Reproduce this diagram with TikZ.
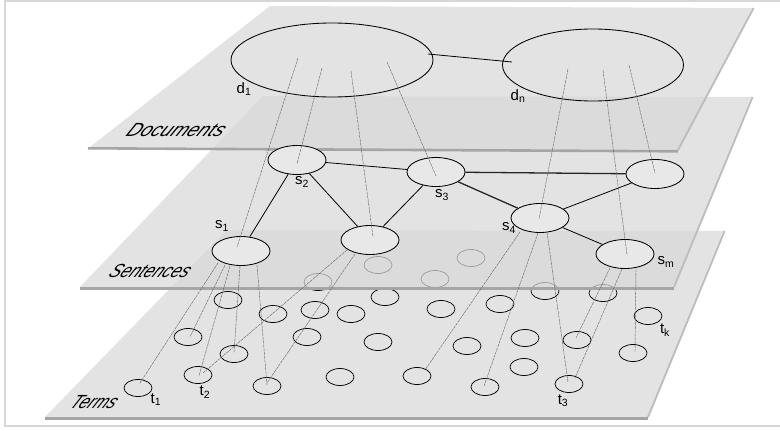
\documentclass[tikz,border=0pt]{standalone}
\usepackage{fontspec}
\setmainfont{Liberation Sans}
\usetikzlibrary{shapes.geometric,calc}
\definecolor{planec}{RGB}{217,217,217}
\definecolor{shadowc}{RGB}{165,165,165}
\definecolor{rshadowc}{RGB}{190,190,190}
\definecolor{framec}{RGB}{215,215,215}
\definecolor{sentc}{RGB}{232,232,232}
\definecolor{connc}{RGB}{105,105,105}
\tikzset{
  plane/.style={fill=planec, fill opacity=0.72},
  bshadow/.style={draw=shadowc, line width=2.6pt},
  rshadow/.style={draw=rshadowc, line width=2pt},
  termnode/.style={ellipse, draw=black, line width=0.75pt, minimum width=28pt, minimum height=17pt, inner sep=0pt},
  sentnode/.style={ellipse, draw=black, line width=0.85pt, fill=sentc, minimum width=58pt, minimum height=29pt, inner sep=0pt},
  docnode/.style={ellipse, draw=black, line width=0.85pt, inner sep=0pt},
  sedge/.style={draw=black, line width=0.8pt},
  sedgeb/.style={draw=black!85, line width=1.3pt},
  conn/.style={draw=connc, line width=0.45pt, dash pattern=on 3pt off 0.8pt},
  lbl/.style={font=\fontsize{15}{15}\selectfont, inner sep=0pt},
  planelabel/.style={font=\fontsize{19}{19}\selectfont\itshape, inner sep=0pt, xslant=0.62, transform shape}
}
\begin{document}
\begin{tikzpicture}[x=1pt,y=-1pt]
\useasboundingbox (0,0) rectangle (780,431);
\fill[white] (0,0) rectangle (780,431);
\draw[framec, line width=2pt] (5,1) rectangle (800,426);

% ---------- Terms plane ----------
\fill[plane] (227,230) -- (723,231) -- (647,417) -- (45,417) -- cycle;
\draw[bshadow] (45,418.3) -- (648,418.3);
\draw[rshadow] (648,417) -- (724.5,231);

% term ellipses
\node[termnode] (ta) at (228,300) {};
\node[termnode] (tb) at (273,314) {};
\node[termnode] (tc) at (315,310) {};
\node[termnode] (td) at (351,314) {};
\node[termnode] (te) at (385,297) {};
\node[termnode] (tf) at (188,337) {};
\node[termnode] (tg) at (307,337) {};
\node[termnode] (th) at (378,342) {};
\node[termnode] (ti) at (234,354) {};
\node[termnode] (t2) at (198,375) {};
\node[termnode] (tj) at (267,386) {};
\node[termnode] (tl) at (340,377) {};
\node[termnode] (t1) at (138,388) {};
\node[termnode] (tm) at (441,309) {};
\node[termnode] (tn) at (500,304) {};
\node[termnode] (tx) at (545,291) {};
\node[termnode] (tp) at (603,293) {};
\node[termnode] (tk) at (648,316) {};
\node[termnode] (tq) at (467,346) {};
\node[termnode] (tr) at (525,338) {};
\node[termnode] (ts) at (577,340) {};
\node[termnode] (tt) at (633,353) {};
\node[termnode] (tu) at (524,367) {};
\node[termnode] (tv) at (417,376) {};
\node[termnode] (tw) at (485,387) {};
\node[termnode] (t3) at (569,384) {};
\node[termnode] (fa) at (318,282) {};
\node[termnode] (fb) at (378,265) {};
\node[termnode] (fc) at (471,258) {};
\node[termnode] (fd) at (435,279) {};

% ---------- Sentences plane ----------
\fill[plane] (263,96) -- (751,97) -- (673,287) -- (80,287) -- cycle;
\draw[bshadow] (80,288.3) -- (674,288.3);
\draw[rshadow] (674,287) -- (752.5,97);

% ---------- Documents plane ----------
\fill[plane] (270,6) -- (752,8) -- (677,150) -- (90,147) -- cycle;
\draw[bshadow] (88,148.3) -- (678,151.3);
\draw[rshadow] (678,150) -- (753.5,8);

% plane labels
\node[planelabel, xscale=1.0] (labD) at (177,130) {Documents};
\node[planelabel, xscale=0.88] (labS) at (151,271) {Sentences};
\node[planelabel, xscale=0.86] (labT) at (95,402) {Terms};

% ---------- sentence nodes ----------
\node[sentnode] (s1) at (241,251) {};
\node[sentnode] (s2) at (297,160) {};
\node[sentnode] (s3) at (436,172) {};
\node[sentnode] (s4) at (540,218) {};
\node[sentnode] (s5) at (655,174) {};
\node[sentnode] (s6) at (370,240) {};
\node[sentnode] (sm) at (625,254) {};

\draw[sedge] (s1) -- (s2);
\draw[sedge] (s2) -- (s6);
\draw[sedge] (s2) -- (s3);
\draw[sedge] (s6) -- (s3);
\draw[sedgeb] (s3) -- (s5);
\draw[sedgeb] (s3) -- (s4);
\draw[sedge] (s4) -- (s5);
\draw[sedge] (s4) -- (sm);

% ---------- document nodes ----------
\node[docnode, minimum width=202pt, minimum height=74pt] (d1) at (332,60) {};
\node[docnode, minimum width=181pt, minimum height=72pt] (dn) at (593,65) {};
\draw[sedge] ($(d1)+(96,-6)$) -- ($(dn)+(-81,-3)$);

% ---------- labels ----------
\node[lbl] (ld1) at (244,89) {d\textsubscript{1}};
\node[lbl] (ldn) at (518,96) {d\textsubscript{n}};
\node[lbl] (ls1) at (222,226) {s\textsubscript{1}};
\node[lbl] (ls2) at (302,182) {s\textsubscript{2}};
\node[lbl] (ls3) at (442,195) {s\textsubscript{3}};
\node[lbl] (ls4) at (509,228) {s\textsubscript{4}};
\node[lbl] (lsm) at (666,262) {s\textsubscript{m}};
\node[lbl] (lt1) at (156,400) {t\textsubscript{1}};
\node[lbl] (lt2) at (205,392) {t\textsubscript{2}};
\node[lbl] (lt3) at (563,401) {t\textsubscript{3}};
\node[lbl] (ltk) at (665,330) {t\textsubscript{k}};

% ---------- document -> sentence connectors ----------
\draw[conn] ($(d1)+(-34,-2)$) -- ($(s1)+(-4,-4)$);
\draw[conn] ($(d1)+(-10,8)$) -- ($(s2)+(0,4)$);
\draw[conn] ($(d1)+(19,11)$) -- ($(s6)+(3,-3)$);
\draw[conn] ($(d1)+(55,2)$) -- ($(s3)+(0,4)$);
\draw[conn] ($(dn)+(-25,4)$) -- ($(s4)+(-1,1)$);
\draw[conn] ($(dn)+(10,5)$) -- ($(sm)+(2,1)$);
\draw[conn] ($(dn)+(36,0)$) -- ($(s5)+(0,-1)$);

% ---------- sentence -> term connectors ----------
\draw[conn] ($(s1)+(-23,12)$) -- ($(t1)+(2,-5)$);
\draw[conn] ($(s1)+(-16,14)$) -- ($(tf)+(2,0)$);
\draw[conn] ($(s1)+(-11,15)$) -- ($(t2)+(1,1)$);
\draw[conn] ($(s1)+(-1,15)$) -- ($(ti)+(0,-1)$);
\draw[conn] ($(s1)+(16,14)$) -- ($(tj)+(0,-1)$);
\draw[conn] ($(s6)+(-23,10)$) -- ($(t2)+(5,-2)$);
\draw[conn] ($(s6)+(-15,14)$) -- ($(tj)+(0,-3)$);
\draw[conn] ($(s4)+(-20,14)$) -- ($(tv)+(8,-6)$);
\draw[conn] ($(s4)+(-2,15)$) -- ($(tw)+(-1,-1)$);
\draw[conn] ($(s4)+(7,14)$) -- ($(t3)+(-1,-2)$);
\draw[conn] ($(sm)+(-15,14)$) -- ($(ts)+(-1,-2)$);
\draw[conn] ($(sm)+(-3,15)$) -- ($(t3)+(6,-6)$);
\draw[conn] ($(sm)+(11,15)$) -- ($(tt)+(2,-1)$);
\end{tikzpicture}
\end{document}
